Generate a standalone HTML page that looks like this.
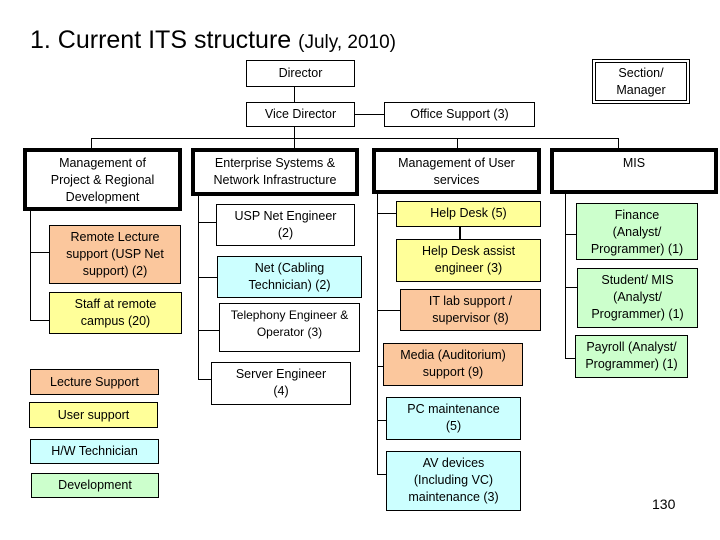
<!DOCTYPE html>
<html><head><style>
body{margin:0;width:720px;height:540px;background:#fff;position:relative;overflow:hidden;font-family:"Liberation Sans",sans-serif;}
.b{position:absolute;box-sizing:border-box;border:1px solid #000;background:#fff;font-size:12.5px;line-height:17px;text-align:center;display:flex;align-items:flex-start;justify-content:center;padding-top:3px;}
.c{align-items:center;padding-top:0;}
.t{border:4px solid #000;}
.o{background:#fbc79d}.y{background:#ffff99}.cy{background:#ccffff}.g{background:#ccffcc}
.h{position:absolute;height:1px;background:#000}
.v{position:absolute;width:1px;background:#000}
</style></head><body>
<div style="position:absolute;left:30px;top:26px;font-size:25px;white-space:nowrap">1. Current ITS structure <span style="font-size:19px">(July, 2010)</span></div>
<div class="b c" style="left:246px;top:60px;width:109px;height:27px">Director</div>
<div class="b c" style="left:246px;top:102px;width:109px;height:25px">Vice Director</div>
<div class="b c" style="left:384px;top:102px;width:151px;height:25px">Office Support (3)</div>
<div class="b c" style="left:592px;top:59px;width:98px;height:45px;border:3px double #000;border-width:4px 4px 4px 4px">Section/<br>Manager</div>
<div class="v" style="left:294px;top:87px;height:15px"></div>
<div class="h" style="left:355px;top:114px;width:29px"></div>
<div class="v" style="left:294px;top:127px;height:11px"></div>
<div class="h" style="left:91px;top:138px;width:528px"></div>
<div class="v" style="left:91px;top:138px;height:10px"></div>
<div class="v" style="left:294px;top:138px;height:10px"></div>
<div class="v" style="left:457px;top:138px;height:10px"></div>
<div class="v" style="left:618px;top:138px;height:10px"></div>

<div class="b t" style="left:23px;top:148px;width:159px;height:63px;padding-top:3px">Management of<br>Project &amp; Regional<br>Development</div>
<div class="b t" style="left:191px;top:148px;width:168px;height:48px;padding-top:3px">Enterprise Systems &amp;<br>Network Infrastructure</div>
<div class="b t" style="left:372px;top:148px;width:169px;height:46px;padding-top:3px">Management of User<br>services</div>
<div class="b t" style="left:550px;top:148px;width:168px;height:46px;padding-top:3px">MIS</div>

<div class="v" style="left:30px;top:211px;height:110px"></div>
<div class="h" style="left:30px;top:252px;width:19px"></div>
<div class="h" style="left:30px;top:320px;width:19px"></div>
<div class="b o" style="left:49px;top:225px;width:132px;height:59px">Remote Lecture<br>support (USP Net<br>support) (2)</div>
<div class="b y" style="left:49px;top:292px;width:133px;height:42px">Staff at remote<br>campus (20)</div>

<div class="b o c" style="left:30px;top:369px;width:129px;height:26px">Lecture Support</div>
<div class="b y c" style="left:29px;top:402px;width:129px;height:26px">User support</div>
<div class="b cy c" style="left:30px;top:439px;width:129px;height:25px">H/W Technician</div>
<div class="b g c" style="left:31px;top:473px;width:128px;height:25px">Development</div>

<div class="v" style="left:198px;top:196px;height:184px"></div>
<div class="h" style="left:198px;top:222px;width:18px"></div>
<div class="h" style="left:198px;top:277px;width:19px"></div>
<div class="h" style="left:198px;top:330px;width:21px"></div>
<div class="h" style="left:198px;top:379px;width:13px"></div>
<div class="b" style="left:216px;top:204px;width:139px;height:42px">USP Net Engineer<br>(2)</div>
<div class="b cy" style="left:217px;top:256px;width:145px;height:42px">Net (Cabling<br>Technician) (2)</div>
<div class="b" style="left:219px;top:303px;width:141px;height:49px;font-size:12px">Telephony Engineer &amp;<br>Operator (3)</div>
<div class="b" style="left:211px;top:362px;width:140px;height:43px">Server Engineer<br>(4)</div>

<div class="v" style="left:377px;top:194px;height:281px"></div>
<div class="h" style="left:377px;top:213px;width:19px"></div>
<div class="h" style="left:377px;top:310px;width:23px"></div>
<div class="h" style="left:377px;top:366px;width:6px"></div>
<div class="h" style="left:377px;top:420px;width:9px"></div>
<div class="h" style="left:377px;top:474px;width:9px"></div>
<div class="b y" style="left:396px;top:201px;width:145px;height:26px">Help Desk (5)</div>
<div style="position:absolute;left:459px;top:227px;width:2px;height:12px;background:#000"></div>
<div class="b y" style="left:396px;top:239px;width:145px;height:43px">Help Desk assist<br>engineer (3)</div>
<div class="b o" style="left:400px;top:289px;width:141px;height:42px">IT lab support /<br>supervisor (8)</div>
<div class="b o" style="left:383px;top:343px;width:140px;height:43px">Media (Auditorium)<br>support (9)</div>
<div class="b cy" style="left:386px;top:397px;width:135px;height:43px">PC maintenance<br>(5)</div>
<div class="b cy" style="left:386px;top:451px;width:135px;height:60px">AV devices<br>(Including VC)<br>maintenance (3)</div>

<div class="v" style="left:565px;top:194px;height:165px"></div>
<div class="h" style="left:565px;top:234px;width:11px"></div>
<div class="h" style="left:565px;top:287px;width:12px"></div>
<div class="h" style="left:565px;top:358px;width:10px"></div>
<div class="b g" style="left:576px;top:203px;width:122px;height:57px">Finance<br>(Analyst/<br>Programmer) (1)</div>
<div class="b g" style="left:577px;top:268px;width:121px;height:60px">Student/ MIS<br>(Analyst/<br>Programmer) (1)</div>
<div class="b g" style="left:575px;top:335px;width:113px;height:43px">Payroll (Analyst/<br>Programmer) (1)</div>

<div style="position:absolute;left:652px;top:496px;font-size:14px">130</div>
</body></html>
